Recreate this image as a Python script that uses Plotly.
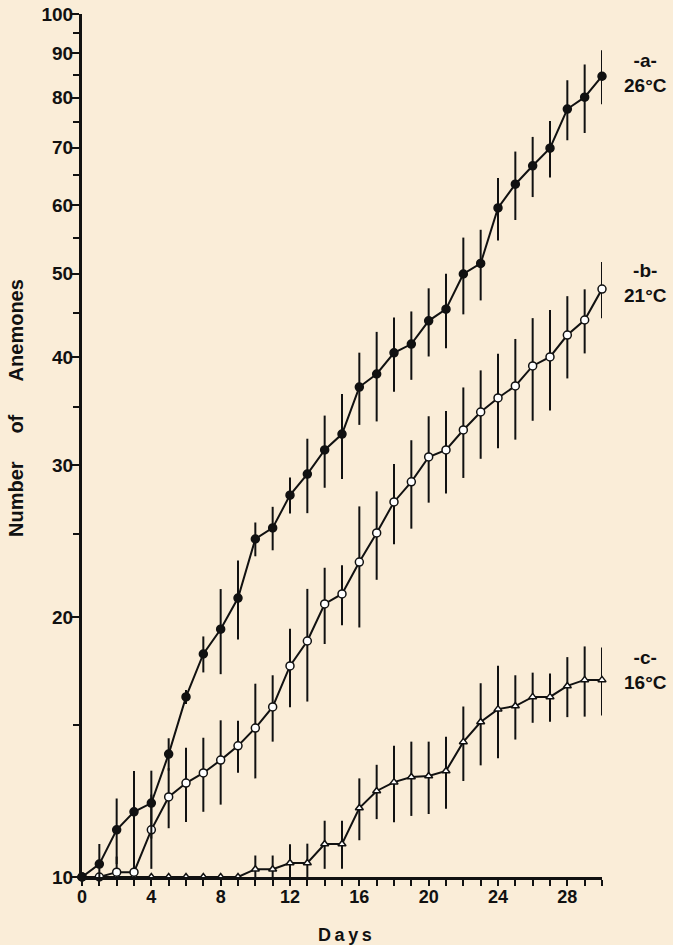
import plotly.graph_objects as go

days = list(range(0, 31))

# Series a: 26 C (filled circles)
a_vals = [10.0, 10.35, 11.34, 11.9, 12.18, 13.88, 16.17, 18.13, 19.37, 21.05,
          24.64, 25.38, 27.7, 29.3, 31.25, 32.6, 36.96, 38.27, 40.5, 41.45,
          44.1, 45.5, 49.97, 51.4, 59.6, 63.5, 66.7, 69.9, 77.6, 80.1, 84.7]
a_err = [0.0, 0.57, 0.99, 1.37, 1.10, 0.60, 0.30, 0.87, 2.19, 2.21,
         1.11, 1.47, 1.33, 2.90, 3.0, 3.68, 3.55, 4.55, 4.0, 3.77,
         4.0, 4.5, 5.1, 4.83, 4.95, 5.78, 5.34, 5.24, 6.2, 7.3, 6.1]

# Series b: 21 C (open circles)
b_vals = [10.0, 10.0, 10.13, 10.13, 11.34, 12.38, 12.85, 13.2, 13.66, 14.19,
          14.88, 15.74, 17.56, 18.77, 20.72, 21.28, 23.17, 25.04, 27.2, 28.7,
          30.67, 31.25, 32.96, 34.58, 35.9, 37.07, 39.1, 40.05, 42.46, 44.2, 48.0]
b_err = [0.0, 0.0, 0.43, 0.43, 1.12, 0.99, 1.27, 1.30, 1.53, 0.98,
         1.87, 1.39, 1.83, 2.80, 2.10, 1.70, 3.71, 2.94, 2.90, 3.37,
         3.52, 3.42, 3.96, 4.06, 4.50, 4.95, 5.32, 5.34, 4.64, 3.77, 3.59]

# Series c: 16 C (open triangles)
c_vals = [10.0, 10.0, 10.0, 10.0, 10.0, 10.0, 10.0, 10.0, 10.0, 10.0,
          10.21, 10.21, 10.38, 10.38, 10.92, 10.92, 12.02, 12.58, 12.88, 13.06,
          13.09, 13.27, 14.34, 15.12, 15.65, 15.78, 16.17, 16.17, 16.65, 16.92, 16.92]
c_err = [0.0, 0.0, 0.0, 0.0, 0.0, 0.0, 0.0, 0.0, 0.0, 0.0,
         0.38, 0.38, 0.53, 0.55, 0.70, 0.70, 0.99, 0.91, 1.31, 1.29,
         1.26, 1.27, 1.42, 1.65, 1.92, 1.35, 1.08, 1.04, 1.33, 1.58, 1.53]

x_tick_vals = list(range(0, 31))
x_tick_text = [str(d) if d % 4 == 0 and d <= 28 else "" for d in x_tick_vals]
y_tick_vals = [10, 20, 30, 40, 50, 60, 70, 80, 90, 100]
y_tick_text = ["10", "20", "30", "40", "50", "60", "70", "80", "90", "100"]
y_minor_vals = [15, 25, 35, 45, 55, 65, 75, 85, 95]

series_labels = ["-a-<br>26°C", "-b-<br>21°C", "-c-<br>16°C"]

BG = "#FAEDD8"
INK = "#111111"
FONT = "Liberation Sans"

fig = go.Figure()

def add_series(vals, errs, symbol, fill, size):
    fig.add_trace(go.Scatter(
        x=days, y=vals, mode="lines+markers",
        line=dict(color=INK, width=2),
        marker=dict(symbol=symbol, size=size, color=fill,
                    line=dict(color=INK, width=1.5)),
        error_y=dict(type="data", array=errs, visible=True,
                     color=INK, thickness=2, width=0),
        cliponaxis=False, showlegend=False,
    ))

add_series(c_vals, c_err, "triangle-up", "white", 7)
add_series(b_vals, b_err, "circle", "white", 8)
add_series(a_vals, a_err, "circle", INK, 8)

fig.update_layout(
    width=673, height=945,
    paper_bgcolor=BG, plot_bgcolor=BG,
    margin=dict(l=82, r=71, t=14, b=68, autoexpand=False),
    font=dict(family=FONT, color=INK, size=16),
    xaxis=dict(
        range=[0, 30], showgrid=False, zeroline=False, automargin=False,
        showline=True, linecolor=INK, linewidth=3,
        ticks="outside", ticklen=6, tickwidth=2, tickcolor=INK,
        tickmode="array", tickvals=x_tick_vals, ticktext=x_tick_text,
        tickfont=dict(family=FONT, size=18, weight="bold"),
        ticklabelstandoff=-5,
    ),
    yaxis=dict(
        type="log", range=[1, 2], showgrid=False, zeroline=False, automargin=False,
        showline=True, linecolor=INK, linewidth=3,
        ticks="outside", ticklen=8, tickwidth=2, tickcolor=INK,
        tickmode="array", tickvals=y_tick_vals, ticktext=y_tick_text,
        tickfont=dict(family=FONT, size=19, weight="bold"),
        ticklabelstandoff=-6,
        minor=dict(tickmode="array", tickvals=y_minor_vals, ticks="outside",
                   ticklen=6, tickwidth=2, tickcolor=INK),
    ),
)

fig.add_annotation(text="Number&nbsp;&nbsp;&nbsp;&nbsp;&nbsp;of&nbsp;&nbsp;&nbsp;&nbsp;&nbsp;&nbsp;Anemones",
                   xref="paper", yref="paper", x=-0.128, y=0.544,
                   xanchor="center", yanchor="middle",
                   textangle=-90, showarrow=False,
                   font=dict(family=FONT, size=20, weight="bold"))
fig.add_annotation(text="D\u2009a\u2009y\u2009s", xref="paper", yref="paper", x=0.506, y=-0.067,
                   xanchor="center", yanchor="middle",
                   showarrow=False, font=dict(family=FONT, size=18, weight="bold"))

label_y = [0.932, 0.688, 0.240]
for txt, yy in zip(series_labels, label_y):
    fig.add_annotation(text=txt, xref="paper", yref="paper", x=1.083, y=yy,
                       xanchor="center", yanchor="middle",
                       showarrow=False, align="center",
                       font=dict(family=FONT, size=19, weight="bold"))

fig.write_html("out.html", config={"displayModeBar": False},
               post_script="document.body.style.margin='0';"
                           "document.body.style.background='" + BG + "';")
